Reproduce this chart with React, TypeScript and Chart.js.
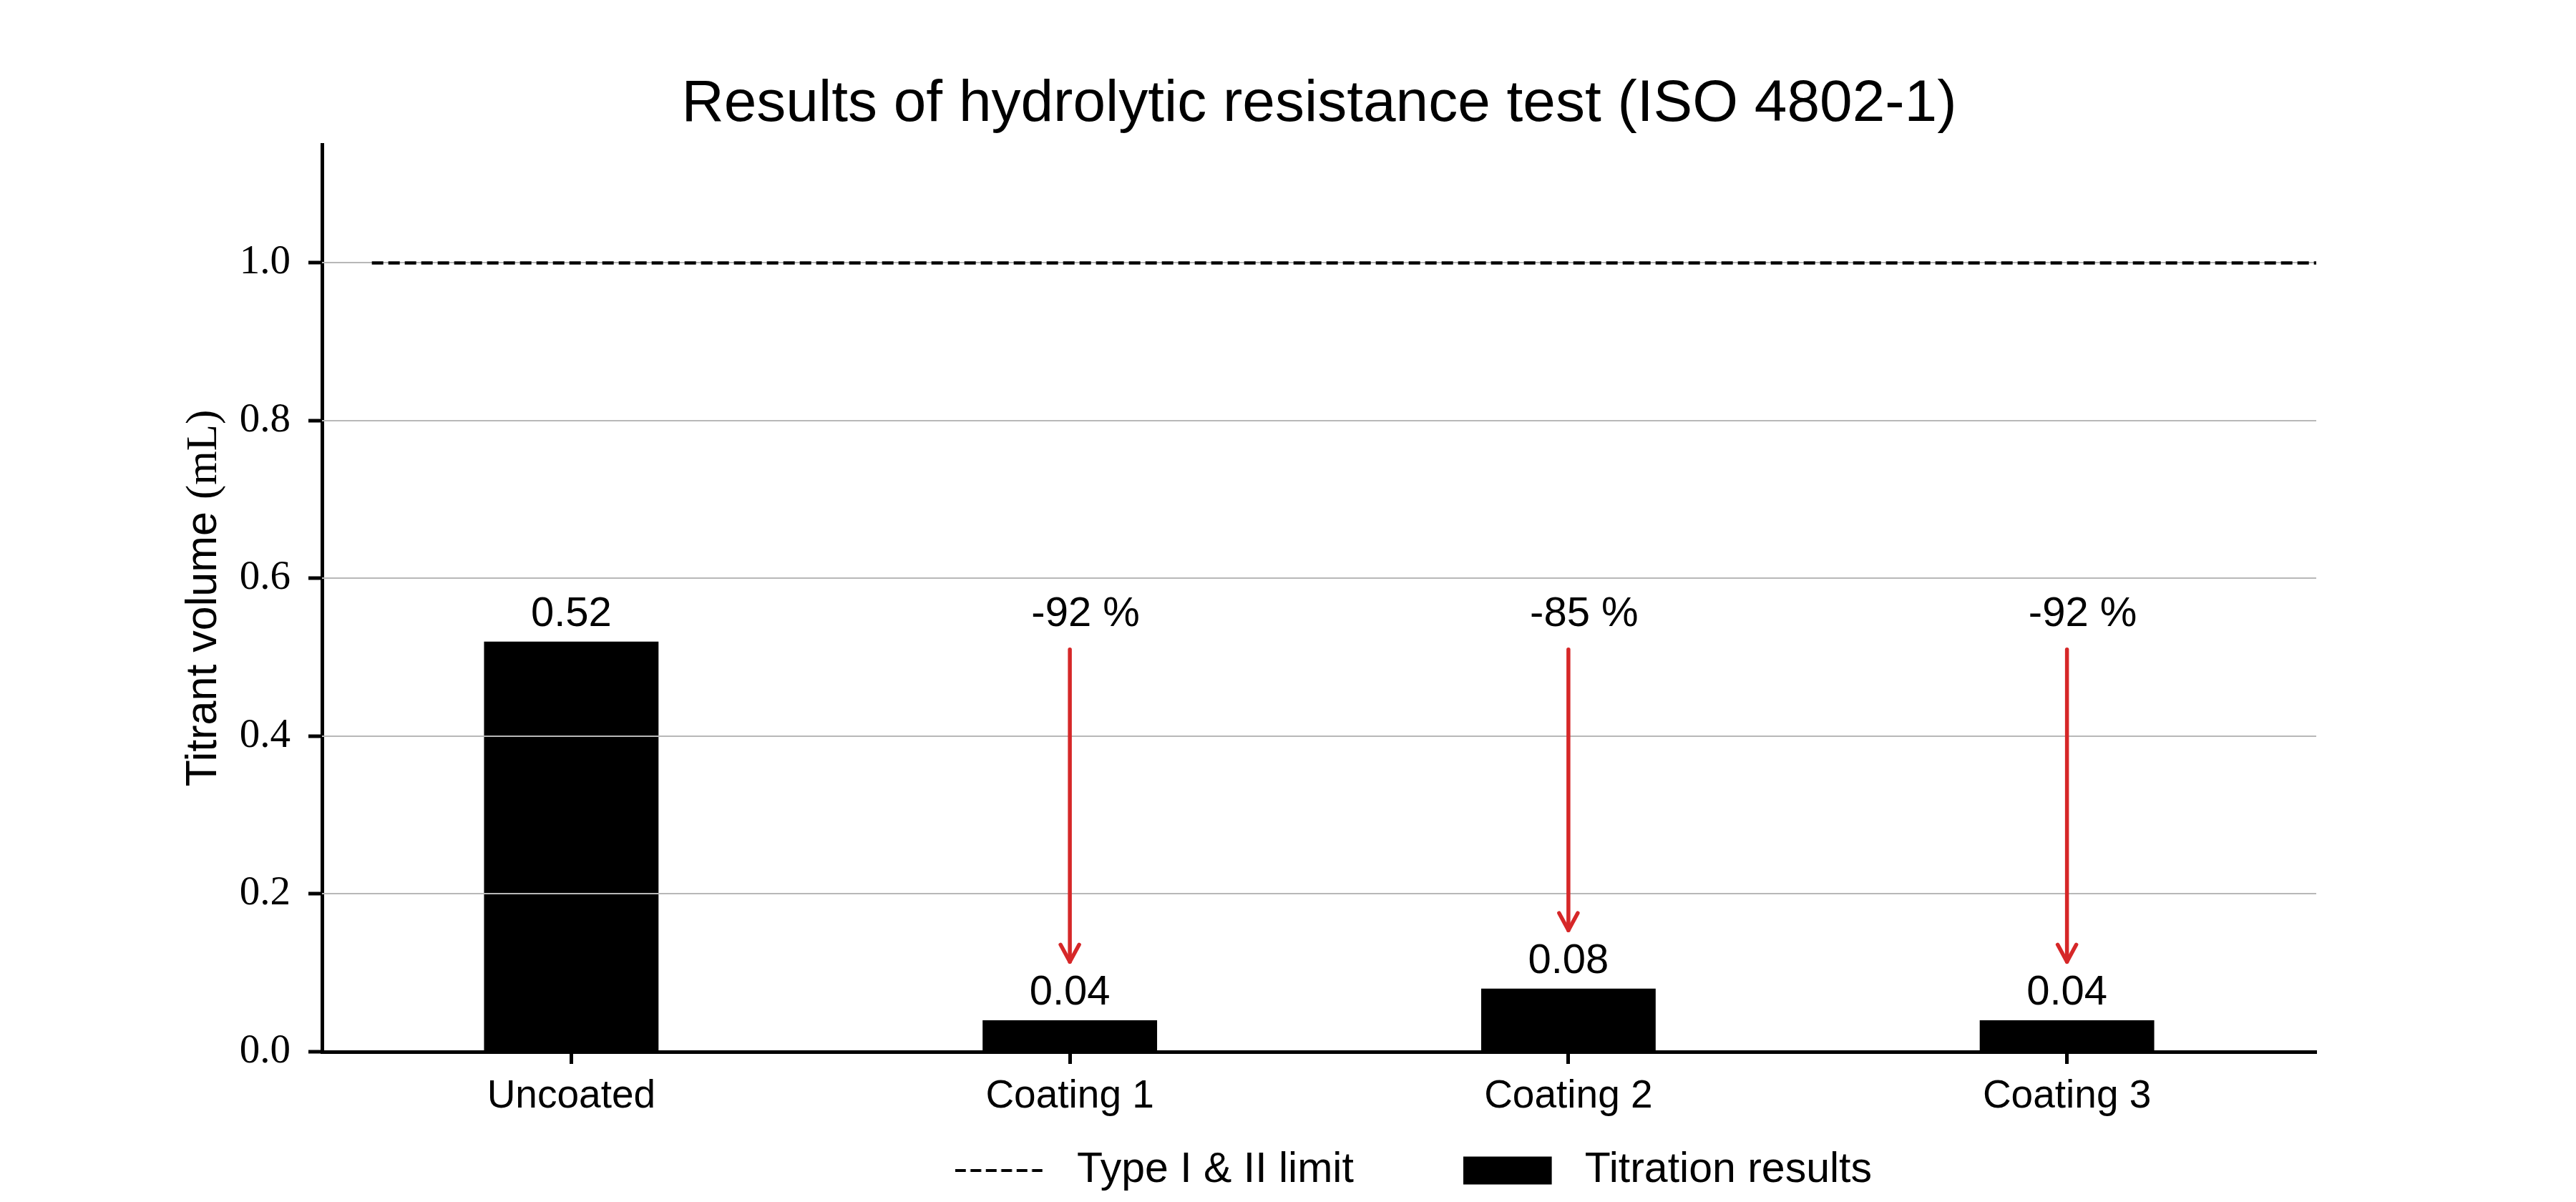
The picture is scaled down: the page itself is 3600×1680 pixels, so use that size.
import React, { useEffect, useRef } from 'react';
import { Chart, registerables } from 'chart.js';

Chart.register(...registerables);

// ---------------- data ----------------
const categories = ['Uncoated', 'Coating 1', 'Coating 2', 'Coating 3'];
const titrationValues = [0.52, 0.04, 0.08, 0.04];
const reductionLabels = ['', '-92 %', '-85 %', '-92 %'];
const limitValue = 1.0;
const limitExtent = [-0.4, 3.5]; // in category-index units
const yTicks = [0, 0.2, 0.4, 0.6, 0.8, 1.0];
const yMax = 1.15;
const arrowTopValue = 0.51;
const arrowGapValue = 0.074;
const seriesNames = ['Type I & II limit', 'Titration results'];
const chartTitle = 'Results of hydrolytic resistance test (ISO 4802-1)';
const yTitleSans = 'Titrant volume ';
const yTitleSerif = '(mL)';

// ---------------- style ----------------
const SANS = '"Liberation Sans", Arial, sans-serif';
const SERIF = '"Liberation Serif", "Times New Roman", serif';
const GRID = '#b8b8b8';
const ARROW = '#d62728';
const W = 3600;
const H = 1680;
const PLOT_LEFT = 450;
const PLOT_RIGHT = 3237;
const PLOT_BOTTOM = 1470;
const LEGEND_X = 1335;
const LEGEND_MID_Y = 1636;
const LEGEND_FONT = 59;
const LEGEND_SYMBOL_W = 122;
const LEGEND_BOX_W = 140.5;
const LEGEND_RESERVED_H = 80;
const Y_TITLE_FONT = 61;

function makeSymbol(kind: 'dash' | 'box'): HTMLCanvasElement {
  const c = document.createElement('canvas');
  c.width = 141;
  c.height = 40;
  const g = c.getContext('2d')!;
  if (kind === 'dash') {
    g.strokeStyle = '#000';
    g.lineWidth = 4.2;
    g.setLineDash([15, 6.5]);
    g.beginPath();
    g.moveTo(0, 20);
    g.lineTo(LEGEND_SYMBOL_W, 20);
    g.stroke();
  } else {
    g.fillStyle = '#000';
    g.fillRect(0, 0.5, 124, 39);
  }
  return c;
}

const overlayPlugin = {
  id: 'overlay',
  afterLayout(chart: any) {
    const lg = chart.legend;
    if (!lg) return;
    const pad = lg.options.labels.padding;
    lg.left = LEGEND_X - pad;
    lg.top = LEGEND_MID_Y - pad - LEGEND_FONT / 2;
  },
  afterDatasetDraw(chart: any, args: any) {
    if (args.index !== 1) return;
    const { ctx, chartArea } = chart;
    const y = chart.scales.y;
    ctx.save();
    ctx.strokeStyle = GRID;
    ctx.lineWidth = 2;
    yTicks.forEach((v) => {
      if (v === 0) return;
      const py = Math.round(y.getPixelForValue(v));
      ctx.beginPath();
      ctx.moveTo(chartArea.left, py);
      ctx.lineTo(chartArea.right, py);
      ctx.stroke();
    });
    ctx.restore();
  },
  afterDatasetsDraw(chart: any) {
    const { ctx, chartArea } = chart;
    const xs = chart.scales.x;
    const ys = chart.scales.y;
    ctx.save();
    // value labels
    ctx.fillStyle = '#000';
    ctx.font = `58px ${SANS}`;
    ctx.textAlign = 'center';
    ctx.textBaseline = 'alphabetic';
    titrationValues.forEach((v, i) => {
      const px = xs.getPixelForValue(i);
      const py = ys.getPixelForValue(v) - 22;
      ctx.fillText(v.toFixed(2), px, py);
    });
    // reduction labels and arrows
    const refY = ys.getPixelForValue(titrationValues[0]) - 22;
    titrationValues.forEach((v, i) => {
      if (!reductionLabels[i]) return;
      const px = xs.getPixelForValue(i);
      ctx.fillStyle = '#000';
      ctx.fillText(reductionLabels[i], px + 22, refY);
      const y0 = ys.getPixelForValue(arrowTopValue);
      const y1 = ys.getPixelForValue(v + arrowGapValue);
      ctx.strokeStyle = ARROW;
      ctx.lineWidth = 5.5;
      ctx.lineCap = 'round';
      ctx.lineJoin = 'round';
      ctx.beginPath();
      ctx.moveTo(px, y0);
      ctx.lineTo(px, y1);
      ctx.stroke();
      ctx.beginPath();
      ctx.moveTo(px - 13, y1 - 24);
      ctx.lineTo(px, y1);
      ctx.lineTo(px + 13, y1 - 24);
      ctx.stroke();
    });
    // y axis title (mixed fonts)
    const cy = (chartArea.top + chartArea.bottom) / 2;
    ctx.font = `${Y_TITLE_FONT}px ${SANS}`;
    const w1 = ctx.measureText(yTitleSans).width;
    ctx.font = `${Y_TITLE_FONT}px ${SERIF}`;
    const w2 = ctx.measureText(yTitleSerif).width;
    ctx.translate(chartArea.left - 148, cy);
    ctx.rotate(-Math.PI / 2);
    ctx.textAlign = 'left';
    ctx.fillStyle = '#000';
    const start = -(w1 + w2) / 2;
    ctx.font = `${Y_TITLE_FONT}px ${SANS}`;
    ctx.fillText(yTitleSans, start, 0);
    ctx.font = `${Y_TITLE_FONT}px ${SERIF}`;
    ctx.fillText(yTitleSerif, start + w1, 0);
    ctx.restore();
  },
};

export default function App() {
  const ref = useRef<HTMLCanvasElement>(null);

  useEffect(() => {
    const canvas = ref.current;
    if (!canvas) return;
    const symbols = [makeSymbol('dash'), makeSymbol('box')];

    const chart = new Chart(canvas, {
      type: 'bar',
      data: {
        labels: categories,
        datasets: [
          {
            type: 'line',
            label: seriesNames[0],
            data: limitExtent.map((x) => ({ x, y: limitValue })),
            xAxisID: 'x2',
            yAxisID: 'y',
            borderColor: '#000',
            borderWidth: 4.5,
            borderDash: [16, 7],
            pointRadius: 0,
            fill: false,
            tension: 0,
          } as any,
          {
            type: 'bar',
            label: seriesNames[1],
            data: titrationValues,
            xAxisID: 'x',
            yAxisID: 'y',
            backgroundColor: '#000',
            borderWidth: 0,
            grouped: false,
            barPercentage: 0.35,
            categoryPercentage: 1.0,
          } as any,
        ],
      },
      options: {
        responsive: false,
        devicePixelRatio: 1,
        animation: false,
        events: [],
        layout: { padding: { left: 0, right: W - PLOT_RIGHT, top: 0, bottom: 0 } },
        scales: {
          x: {
            type: 'category',
            offset: true,
            grid: {
              offset: false,
              drawOnChartArea: false,
              drawTicks: true,
              tickLength: 17,
              tickWidth: 5,
              tickColor: '#000',
            },
            border: { display: true, color: '#000', width: 5 },
            ticks: {
              color: '#000',
              font: { family: SANS, size: 55 },
              padding: 13,
              maxRotation: 0,
              autoSkip: false,
            },
            afterFit: (scale: any) => {
              const lg = scale.chart.legend;
              const lh = lg ? lg.height : 0;
              scale.height = Math.max(0, H - PLOT_BOTTOM - lh);
            },
          },
          x2: {
            type: 'linear',
            axis: 'x',
            display: false,
            offset: false,
            min: -0.5,
            max: 3.5,
            grid: { offset: false },
          },
          y: {
            type: 'linear',
            min: 0,
            max: yMax,
            afterBuildTicks: (scale: any) => {
              scale.ticks = yTicks.map((v) => ({ value: v }));
            },
            afterFit: (scale: any) => {
              scale.width = PLOT_LEFT;
            },
            grid: {
              color: (c: any) => (c.tick && c.tick.value === 0 ? 'rgba(0,0,0,0)' : GRID),
              lineWidth: 2,
              drawTicks: true,
              tickLength: 19,
              tickWidth: 5,
              tickColor: '#000',
            },
            border: { display: true, color: '#000', width: 5 },
            ticks: {
              color: '#000',
              font: { family: SERIF, size: 57 },
              padding: 25,
              callback: (v: any) => Number(v).toFixed(1),
            },
          },
        } as any,
        plugins: {
          title: {
            display: true,
            text: chartTitle,
            fullSize: false,
            color: '#000',
            font: { family: SANS, size: 82, weight: 'normal', lineHeight: 1.2 },
            padding: { top: 97, bottom: 6.6 },
          },
          legend: {
            display: true,
            position: 'bottom',
            align: 'start',
            maxHeight: LEGEND_RESERVED_H,
            labels: {
              usePointStyle: true,
              pointStyleWidth: LEGEND_BOX_W,
              boxHeight: 40,
              padding: 153,
              color: '#000',
              font: { family: SANS, size: LEGEND_FONT },
              generateLabels: (ch: any) =>
                ch.data.datasets.map((ds: any, i: number) => ({
                  text: ds.label,
                  pointStyle: symbols[i],
                  fillStyle: '#000',
                  strokeStyle: '#000',
                  lineWidth: 0,
                  fontColor: '#000',
                  hidden: false,
                  datasetIndex: i,
                })),
            },
          },
          tooltip: { enabled: false },
        } as any,
      },
      plugins: [overlayPlugin],
    } as any);

    return () => chart.destroy();
  }, []);

  return (
    <div style={{ position: 'fixed', left: 0, top: 0, width: W, height: H, background: '#fff' }}>
      <canvas ref={ref} width={W} height={H} style={{ display: 'block', width: W, height: H }} />
    </div>
  );
}
